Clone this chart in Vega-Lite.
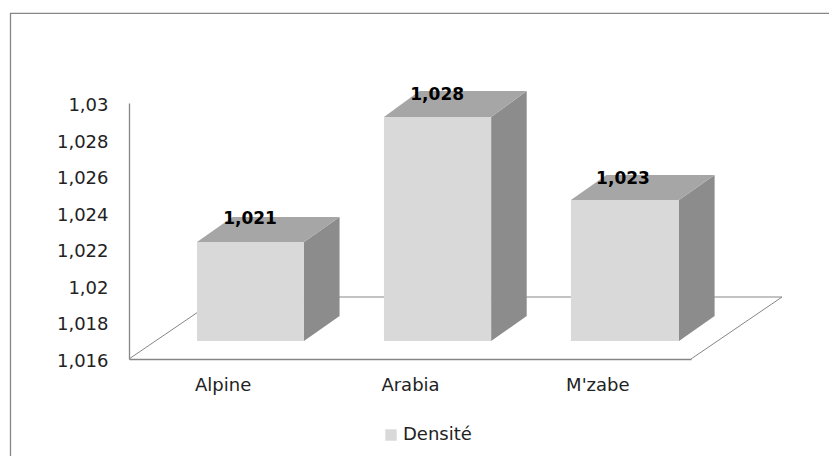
{
"$schema":"https://vega.github.io/schema/vega-lite/v6.json",
"width":562,"height":256,
"autosize":{"type":"none"},
"padding":{"left":129,"top":103,"right":138,"bottom":97},
"background":"white",
"view":{"stroke":null},
"datasets":{
"bars":[
{"category":"Alpine","serie":"Densité","densite":1.021,"label":"1,021","x0":0.363,"x1":0.934,"xlabel":0.646,"base":1.01698,"top":1.0224,"ylabel":1.02366},
{"category":"Arabia","serie":"Densité","densite":1.028,"label":"1,028","x0":1.361,"x1":1.933,"xlabel":1.645,"base":1.01698,"top":1.02923,"ylabel":1.03044},
{"category":"M'zabe","serie":"Densité","densite":1.023,"label":"1,023","x0":2.359,"x1":2.936,"xlabel":2.637,"base":1.01698,"top":1.0247,"ylabel":1.02585}
],
"side":[
{"category":"Alpine","x":0.934,"low":1.01698,"high":1.0224},
{"category":"Alpine","x":1.124,"low":1.01835,"high":1.02377},
{"category":"Arabia","x":1.933,"low":1.01698,"high":1.02923},
{"category":"Arabia","x":2.123,"low":1.01835,"high":1.03066},
{"category":"M'zabe","x":2.936,"low":1.01698,"high":1.0247},
{"category":"M'zabe","x":3.126,"low":1.01835,"high":1.02606}
],
"topface":[
{"category":"Alpine","x":0.363,"low":1.0224,"high":1.0224},
{"category":"Alpine","x":0.553,"low":1.0224,"high":1.02377},
{"category":"Alpine","x":0.934,"low":1.0224,"high":1.02377},
{"category":"Alpine","x":1.124,"low":1.02377,"high":1.02377},
{"category":"Arabia","x":1.361,"low":1.02923,"high":1.02923},
{"category":"Arabia","x":1.551,"low":1.02923,"high":1.03066},
{"category":"Arabia","x":1.933,"low":1.02923,"high":1.03066},
{"category":"Arabia","x":2.123,"low":1.03066,"high":1.03066},
{"category":"M'zabe","x":2.359,"low":1.0247,"high":1.0247},
{"category":"M'zabe","x":2.549,"low":1.0247,"high":1.02606},
{"category":"M'zabe","x":2.936,"low":1.0247,"high":1.02606},
{"category":"M'zabe","x":3.126,"low":1.02606,"high":1.02606}
],
"floor":[
{"edge":"left","x":0,"v":1.016},
{"edge":"left","x":0.486,"v":1.01939},
{"edge":"back","x":0.486,"v":1.01939},
{"edge":"back","x":3.486,"v":1.01939},
{"edge":"right","x":3,"v":1.016},
{"edge":"right","x":3.486,"v":1.01939}
],
"frame":[
{"x":-0.6326,"v":1.0107},
{"x":-0.6326,"v":1.0349},
{"x":3.737,"v":1.0349}
]
},
"layer":[
{"data":{"name":"frame"},
 "mark":{"type":"line","stroke":"#868686","strokeWidth":1.3},
 "encoding":{
  "x":{"field":"x","type":"quantitative","scale":{"domain":[0,3],"nice":false,"zero":false},
   "axis":{"title":null,"values":[0.5,1.5,2.5],"grid":false,"ticks":false,"domain":true,"domainColor":"#868686","domainWidth":1.3,
    "labelExpr":"['Alpine','Arabia','M\\'zabe'][datum.value-0.5]","labelFont":"DejaVu Sans","labelFontSize":18,"labelColor":"#222222","labelPadding":17,"labelAngle":0}},
  "y":{"field":"v","type":"quantitative","scale":{"domain":[1.016,1.03],"nice":false,"zero":false},
   "axis":{"title":null,"values":[1.016,1.018,1.02,1.022,1.024,1.026,1.028,1.03],"tickCount":8,"grid":false,"ticks":false,"domain":true,"domainColor":"#868686","domainWidth":1.3,"labelOverlap":false,"labelFlush":false,"labelOffset":2.5,
    "labelExpr":"replace(format(datum.value,'.3~f'),'.',',')","labelFont":"DejaVu Sans","labelFontSize":18,"labelColor":"#222222","labelPadding":21}}
 }},
{"data":{"name":"floor"},
 "mark":{"type":"line","stroke":"#868686","strokeWidth":1},
 "encoding":{
  "x":{"field":"x","type":"quantitative"},
  "y":{"field":"v","type":"quantitative"},
  "detail":{"field":"edge"}
 }},
{"data":{"name":"side"},
 "mark":{"type":"area","color":"#8c8c8c","opacity":1},
 "encoding":{
  "x":{"field":"x","type":"quantitative"},
  "y":{"field":"high","type":"quantitative"},
  "y2":{"field":"low"},
  "detail":{"field":"category"}
 }},
{"data":{"name":"topface"},
 "mark":{"type":"area","color":"#a6a6a6","opacity":1},
 "encoding":{
  "x":{"field":"x","type":"quantitative"},
  "y":{"field":"high","type":"quantitative"},
  "y2":{"field":"low"},
  "detail":{"field":"category"}
 }},
{"data":{"name":"bars"},
 "mark":{"type":"rect"},
 "encoding":{
  "x":{"field":"x0","type":"quantitative"},
  "x2":{"field":"x1"},
  "y":{"field":"top","type":"quantitative"},
  "y2":{"field":"base"},
  "color":{"field":"serie","type":"nominal","scale":{"range":["#d9d9d9"]},
   "legend":{"title":null,"orient":"none","legendX":253,"legendY":323,"symbolType":"square","symbolSize":130,"symbolStrokeWidth":0,"labelFont":"DejaVu Sans","labelFontSize":18,"labelColor":"#222222","labelOffset":3}}
 }},
{"data":{"name":"bars"},
 "mark":{"type":"text","font":"DejaVu Sans","fontWeight":"bold","fontSize":17,"color":"#000000","align":"center","baseline":"middle"},
 "encoding":{
  "x":{"field":"xlabel","type":"quantitative"},
  "y":{"field":"ylabel","type":"quantitative"},
  "text":{"field":"label"}
 }}
]
}
